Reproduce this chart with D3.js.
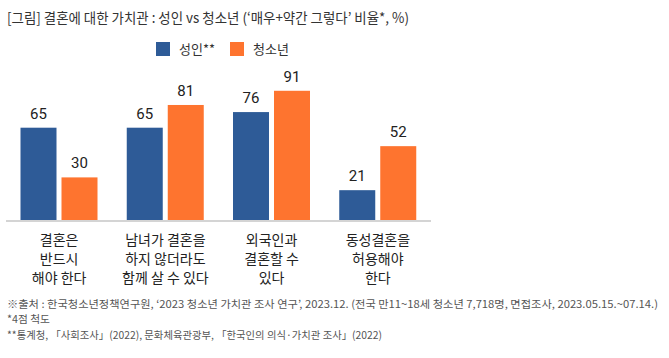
<!DOCTYPE html>
<html><head><meta charset="utf-8">
<script src="https://cdn.jsdelivr.net/npm/d3@7"></script>
<style>
html,body{margin:0;padding:0;background:#fff;}
svg{display:block;font-family:"Noto Sans CJK KR","Noto Sans",sans-serif;}
</style></head>
<body>
<svg id="c" width="669" height="358"></svg>
<script>
const title = "[그림] 결혼에 대한 가치관 : 성인 vs 청소년 (‘매우+약간 그렇다’ 비율*, %)";
const categories = [
  ["결혼은", "반드시", "해야 한다"],
  ["남녀가 결혼을", "하지 않더라도", "함께 살 수 있다"],
  ["외국인과", "결혼할 수", "있다"],
  ["동성결혼을", "허용해야", "한다"]
];
const seriesNames = ["성인**", "청소년"];
const adults = [65, 65, 76, 21];
const youth = [30, 81, 91, 52];
const colors = ["#2e5b97", "#fe742f"];
const footnotes = [
  "※출처 : 한국청소년정책연구원, ‘2023 청소년 가치관 조사 연구’, 2023.12. (전국 만11~18세 청소년 7,718명, 면접조사, 2023.05.15.~07.14.)",
  "*4점 척도",
  "**통계청, 「사회조사」(2022), 문화체육관광부, 「한국인의 의식·가치관 조사」(2022)"
];
const footWidths = [651, 43, 375];

const svg = d3.select("#c");
svg.append("text").attr("x", 7).attr("y", 23).attr("font-size", 14).attr("fill", "#333")
  .attr("textLength", 402).attr("lengthAdjust", "spacingAndGlyphs").text(title);

// legend
const legX = [156, 230];
seriesNames.forEach((n, i) => {
  svg.append("rect").attr("x", legX[i]).attr("y", 42).attr("width", 14).attr("height", 14).attr("fill", colors[i]);
  svg.append("text").attr("x", legX[i] + 23).attr("y", 54).attr("font-size", 13).attr("fill", "#333").text(n);
});

const x0 = d3.scaleBand().domain(d3.range(categories.length)).range([6, 431]).paddingInner(0).paddingOuter(0);
const x1 = d3.scaleBand().domain([0, 1]).range([14.5, 14.5 + 77]).paddingInner(5 / 41).paddingOuter(0);
const y = d3.scaleLinear().domain([0, 100]).range([220, 78]);

const data = categories.map((c, i) => ({i, vals: [adults[i], youth[i]]}));
const g = svg.append("g");
const grp = g.selectAll("g.grp").data(data).join("g").attr("transform", d => `translate(${x0(d.i)},0)`);
grp.selectAll("rect").data(d => d.vals.map((v, k) => ({v, k}))).join("rect")
  .attr("x", d => x1(d.k)).attr("width", x1.bandwidth())
  .attr("y", d => y(d.v)).attr("height", d => y(0) - y(d.v)).attr("fill", d => colors[d.k]);
grp.selectAll("text.val").data(d => d.vals.map((v, k) => ({v, k}))).join("text").attr("class", "val")
  .attr("x", d => x1(d.k) + x1.bandwidth() / 2).attr("y", d => y(d.v) - 9)
  .attr("text-anchor", "middle").attr("font-size", 15).attr("fill", "#222")
  .attr("font-family", "Roboto, 'Noto Sans CJK KR', sans-serif").text(d => d.v);

// axis line
svg.append("line").attr("x1", 6).attr("x2", 431).attr("y1", 221).attr("y2", 221).attr("stroke", "#d4d4d4").attr("stroke-width", 2);

// category labels
categories.forEach((lines, i) => {
  const cx = x0(i) + x0.bandwidth() / 2;
  lines.forEach((t, j) => {
    svg.append("text").attr("x", cx).attr("y", 245 + j * 19).attr("text-anchor", "middle")
      .attr("font-size", 14).attr("fill", "#222").text(t);
  });
});

// footnotes
footnotes.forEach((t, j) => {
  svg.append("text").attr("x", 7).attr("y", 307.5 + j * 15.5).attr("font-size", 10.5).attr("fill", "#555")
    .attr("textLength", footWidths[j]).attr("lengthAdjust", "spacingAndGlyphs").text(t);
});
</script>
</body></html>
